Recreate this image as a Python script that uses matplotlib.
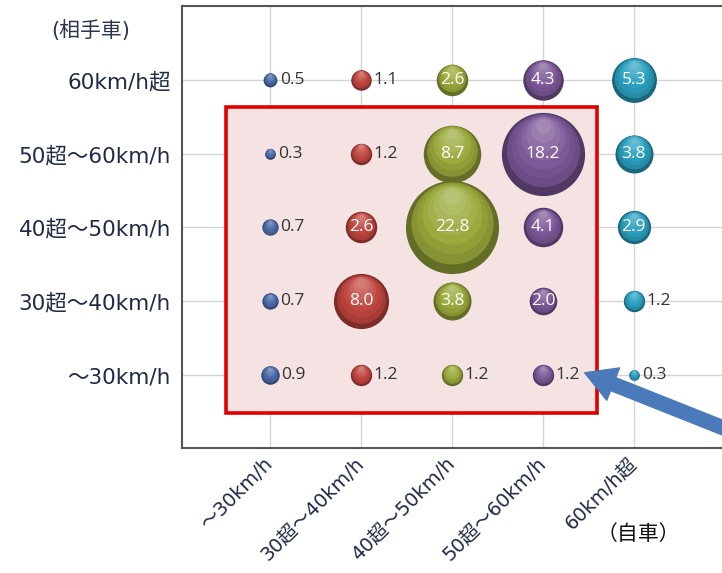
import matplotlib
matplotlib.use("Agg")
import matplotlib.pyplot as plt
from matplotlib.patches import Rectangle
import numpy as np

plt.rcParams['font.family'] = ['DejaVu Sans', 'Noto Sans CJK JP']

# 自車 (x) and 相手車 (y) speed bands
own_labels = ['～30km/h', '30超～40km/h', '40超～50km/h', '50超～60km/h', '60km/h超']
other_labels = ['～30km/h', '30超～40km/h', '40超～50km/h', '50超～60km/h', '60km/h超']

# values[row=相手車][col=自車], rows from ～30 upward
values = [
    [0.9, 1.2, 1.2, 1.2, 0.3],
    [0.7, 8.0, 3.8, 2.0, 1.2],
    [0.7, 2.6, 22.8, 4.1, 2.9],
    [0.3, 1.2, 8.7, 18.2, 3.8],
    [0.5, 1.1, 2.6, 4.3, 5.3],
]
col_colors = ['#4a6aa8', '#c0453f', '#9aa83a', '#7b5797', '#2a9fbf']

fig = plt.figure(figsize=(7.22, 5.73), dpi=100)
ax = fig.add_axes([0.252, 0.218, 0.748, 0.7715])
ax.set_xlim(-0.97, 4.97)
ax.set_ylim(-0.99, 5.0)

ax.set_xticks(range(len(own_labels)))
ax.set_yticks(range(len(other_labels)))
ax.grid(True, color='#d4d4d4', linewidth=1, zorder=0)
ax.set_axisbelow(True)
for s in ['left', 'bottom', 'top']:
    ax.spines[s].set_color('#555555')
    ax.spines[s].set_linewidth(1.5)
ax.spines['right'].set_visible(False)
ax.tick_params(axis='y', length=0, pad=8, labelsize=15.5, labelcolor='#1f2a44')
ax.tick_params(axis='x', length=0, pad=9, labelsize=14, labelcolor='#1f2a44')
ax.set_yticklabels(other_labels)
ax.set_xticklabels(own_labels, rotation=45, ha='right', va='center', rotation_mode='anchor')

# highlighted region
ax.add_patch(Rectangle((-0.49, -0.52), 4.09, 4.15, facecolor='#f5e2e2',
                       edgecolor='#e00000', linewidth=2.6, zorder=1))

def shade(c, f):
    c = np.array(matplotlib.colors.to_rgb(c))
    if f >= 0:
        return tuple(c + (1 - c) * f)
    return tuple(c * (1 + f))

k = 197.0
for r, row in enumerate(values):
    for c, v in enumerate(row):
        s = v * k
        base = col_colors[c]
        # fake sphere shading with stacked circles
        ax.scatter(c, r, s=s, color=shade(base, -0.35), zorder=3, linewidths=0)
        steps = 7
        for i in range(1, steps + 1):
            frac = 1 - i / (steps + 1.5)
            dy = (1 - frac) * np.sqrt(s) / 130.0
            ax.scatter(c, r + dy, s=s * frac ** 2, color=shade(base, -0.2 + 0.5 * i / steps),
                       zorder=3 + i, linewidths=0)
        if v >= 2:
            ax.text(c, r, f'{v:.1f}', ha='center', va='center', color='white',
                    fontsize=12.5, family='Open Sans', zorder=20)
        else:
            ax.text(c + np.sqrt(s) / 180 + 0.05, r, f'{v:.1f}', ha='left', va='center',
                    color='#333333', fontsize=12.5, family='Open Sans', zorder=20)

# arrow pointing at the 1.2 label
ax.annotate('', xy=(3.46, 0.03), xytext=(5.4, -0.92),
            arrowprops=dict(arrowstyle='simple,head_length=1.1,head_width=1.25,tail_width=0.5',
                            color='#4a7ab9', mutation_scale=20, shrinkA=0, shrinkB=0),
            annotation_clip=False, zorder=25)

fig.text(91 / 722, 1 - 30 / 573, '(相手車)', ha='center', va='center', fontsize=15, color='#2b3550')
fig.text(638 / 722, 1 - 534 / 573, '（自車）', ha='center', va='center', fontsize=15,
         family='Noto Sans CJK JP', color='#111111')

fig.savefig('out.png', dpi=100)
